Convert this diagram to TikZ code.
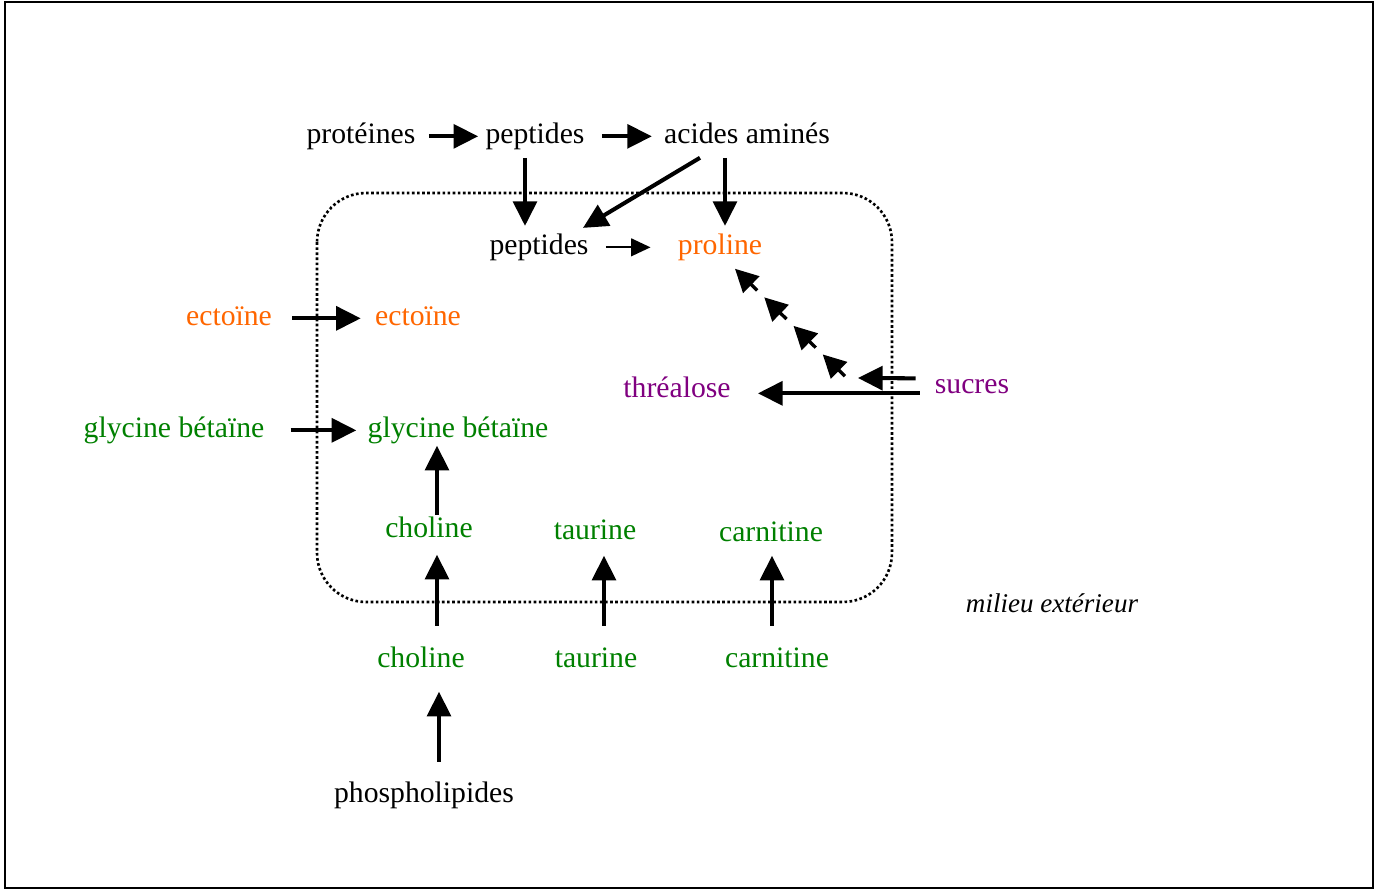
\documentclass[tikz,border=0pt]{standalone}
\usepackage{fontspec}
\setmainfont{Liberation Serif}
\usetikzlibrary{arrows.meta,calc}
\definecolor{ectoorange}{RGB}{255,102,0}
\definecolor{osmogreen}{RGB}{0,128,0}
\definecolor{sugarpurple}{RGB}{128,0,128}
\begin{document}
\begin{tikzpicture}[
    x=0.02cm, y=-0.02cm,
    compound/.style={font=\fontsize{16.9}{20}\selectfont, inner sep=4pt, text height=11.8pt, text depth=4.2pt, anchor=base},
    arrow/.style={-{Triangle[length=14pt,width=13.5pt]}, line width=2.3pt},
    thinarrow/.style={-{Triangle[length=11pt,width=10pt]}, line width=1.2pt},
    chain/.style={-{Triangle[length=13pt,width=13pt]}, line width=1.9pt},
    membrane/.style={line width=1.5pt, dash pattern=on 1.5pt off 1.4pt, rounded corners=28pt}
]
\useasboundingbox (0,0) rectangle (1377,890);
% Frame and cell membrane
\draw[line width=1.2pt] (5,2) rectangle (1373,888);
\draw[membrane] (317,193) rectangle (892,602);
% Compounds
\node[compound] (prot) at (361,143) {protéines};
\node[compound] (pepA) at (535,143) {peptides};
\node[compound] (aa) at (747,143) {acides aminés};
\node[compound] (pepB) at (539,254) {peptides};
\node[compound, text=ectoorange] (proline) at (720,254) {proline};
\node[compound, text=ectoorange] (ectoA) at (229,325) {ectoïne};
\node[compound, text=ectoorange] (ectoB) at (418,325) {ectoïne};
\node[compound, text=osmogreen] (gbA) at (174,437) {glycine bétaïne};
\node[compound, text=osmogreen] (gbB) at (458,437) {glycine bétaïne};
\node[compound, text=sugarpurple] (trehal) at (677,397) {thréalose};
\node[compound, text=sugarpurple] (sucres) at (972,393) {sucres};
\node[compound, text=osmogreen] (cholB) at (429,537) {choline};
\node[compound, text=osmogreen] (taurB) at (595,539) {taurine};
\node[compound, text=osmogreen] (carnB) at (771,541) {carnitine};
\node[compound, text=osmogreen] (cholA) at (421,667) {choline};
\node[compound, text=osmogreen] (taurA) at (596,667) {taurine};
\node[compound, text=osmogreen] (carnA) at (777,667) {carnitine};
\node[compound] (phospho) at (424,802) {phospholipides};
\node[compound, font=\fontsize{15.4}{18}\selectfont\itshape] (milieu) at (1052,612) {milieu extérieur};
% Degradation and uptake
\draw[arrow, shorten <=3.5pt] (prot.east) -- (pepA.west);
\draw[arrow, shorten <=5.7pt, shorten >=2.8pt] (pepA.east) -- (aa.west);
\draw[arrow] ([shift={(-10,0)}]pepA.south) -- ([shift={(-14,0)}]pepB.north);
\draw[arrow] ([shift={(-22,0)}]aa.south) -- ([shift={(5,0)}]proline.north);
\draw[arrow] ([shift={(-47,0)}]aa.south) -- ([shift={(44,2)}]pepB.north);
\draw[thinarrow, shorten <=5.7pt, shorten >=11.4pt] (pepB.east) -- (proline.west);
\draw[arrow, shorten <=7.4pt, shorten >=4pt] (ectoA.east) -- (ectoB.west);
\draw[arrow, shorten <=10.8pt, shorten >=2.3pt] (gbA.east) -- (gbB.west);
% Sugars
\coordinate (fork) at (858,378);
\coordinate (chainstart) at (852,383);
\coordinate (prolinefoot) at ([shift={(15,0)}]proline.south);
\draw[arrow] ([shift={(-8,7)}]sucres.west) -- ([shift={(20,3)}]trehal.east);
\draw[arrow] ([shift={(-12,-8)}]sucres.west) -- (fork);
\foreach \a [evaluate=\a as \b using \a+0.19] in {0.06,0.31,0.56,0.81}
    \draw[chain] ($(chainstart)!\a!(prolinefoot)$) -- ($(chainstart)!\b!(prolinefoot)$);
% Choline, taurine, carnitine
\draw[arrow] ([shift={(8,6)}]cholB.north) -- ([shift={(-21,-6)}]gbB.south);
\draw[arrow] ([shift={(16,-13)}]cholA.north) -- ([shift={(8,3)}]cholB.south);
\draw[arrow] ([shift={(8,-13)}]taurA.north) -- ([shift={(9,2)}]taurB.south);
\draw[arrow] ([shift={(-5,-13)}]carnA.north) -- ([shift={(1,0)}]carnB.south);
\draw[arrow] ([shift={(15,-12)}]phospho.north) -- ([shift={(18,10)}]cholA.south);
\end{tikzpicture}
\end{document}
